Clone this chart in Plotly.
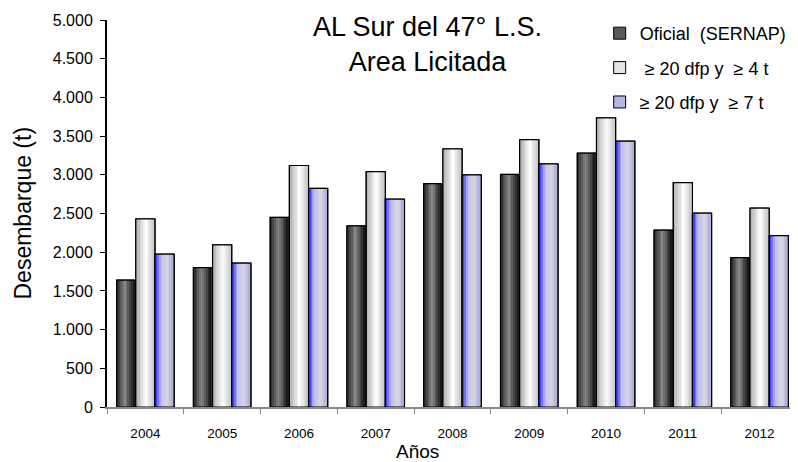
import plotly.graph_objects as go

years = ["2004", "2005", "2006", "2007", "2008", "2009", "2010", "2011", "2012"]
oficial = [1640, 1800, 2450, 2340, 2885, 3005, 3280, 2285, 1930]
dfp4 = [2430, 2095, 3120, 3040, 3335, 3455, 3735, 2900, 2570]
dfp7 = [1975, 1860, 2825, 2685, 3000, 3140, 3435, 2505, 2215]
y_ticks = [0, 500, 1000, 1500, 2000, 2500, 3000, 3500, 4000, 4500, 5000]

series = [
    ("Oficial\u00a0\u00a0(SERNAP)", oficial, "#5a5a5a",
     [(0.0, (40, 40, 40)), (0.45, (135, 135, 135)), (1.0, (15, 15, 15))]),
    ("\u00a0\u2265 20 dfp y\u00a0\u00a0\u2265 4 t", dfp4, "#e4e4e4",
     [(0.0, (175, 175, 175)), (0.55, (255, 255, 255)), (1.0, (200, 200, 200))]),
    ("\u2265 20 dfp y\u00a0\u00a0\u2265 7 t", dfp7, "#b4b4e6",
     [(0.0, (40, 40, 255)), (0.3, (190, 190, 235)), (0.7, (215, 215, 225)), (1.0, (170, 170, 220))]),
]

def interp(stops, t):
    for (t0, c0), (t1, c1) in zip(stops[:-1], stops[1:]):
        if t0 <= t <= t1:
            f = (t - t0) / (t1 - t0) if t1 > t0 else 0
            c = [round(a + (b - a) * f) for a, b in zip(c0, c1)]
            return "rgb(%d,%d,%d)" % tuple(c)
    return "rgb(%d,%d,%d)" % stops[-1][1]

FONT = "Arial, Liberation Sans, sans-serif"

fig = go.Figure()
bw = 0.25
nstrip = 10
inset = 0.012
for i, (name, vals, mid, stops) in enumerate(series):
    off = -0.375 + i * bw
    fig.add_trace(go.Bar(x=years, y=vals, name=name, legendgroup=name,
                         marker=dict(color=mid, line=dict(color="black", width=1)),
                         width=bw, offset=off, showlegend=True))
    sw = (bw - 2 * inset) / nstrip
    for k in range(nstrip):
        t = (k + 0.5) / nstrip
        fig.add_trace(go.Bar(x=years, y=vals, legendgroup=name, showlegend=False,
                             marker=dict(color=interp(stops, t), line=dict(width=0)),
                             width=sw * 1.02, offset=off + inset + k * sw, hoverinfo="skip"))
    fig.add_trace(go.Bar(x=years, y=vals, legendgroup=name, showlegend=False,
                         marker=dict(color="rgba(0,0,0,0)", line=dict(color="black", width=1.2)),
                         width=bw, offset=off, hoverinfo="skip"))

# chart title
fig.add_annotation(text="AL Sur del 47\u00b0 L.S.<br>Area Licitada", xref="paper", yref="paper",
                   x=0.4645, y=0.937, xanchor="center", yanchor="middle", showarrow=False,
                   font=dict(size=27, color="black", family=FONT))
# axis titles
fig.add_annotation(text="Desembarque (t)", xref="paper", yref="paper", textangle=-90,
                   x=-0.123, y=0.5, xanchor="center", yanchor="middle", showarrow=False,
                   font=dict(size=23, color="black", family=FONT))
fig.add_annotation(text="Años", xref="paper", yref="paper",
                   x=0.45, y=-0.115, xanchor="center", yanchor="middle", showarrow=False,
                   font=dict(size=19, color="black", family=FONT))

# page body has an 8px margin: figure is sized/offset so the plot area lands at
# x 107..798, y 20..407 of the window
fig.update_layout(
    width=790, height=454,
    barmode="overlay",
    separators=",.",
    paper_bgcolor="white", plot_bgcolor="white",
    margin=dict(l=99, r=0, t=12, b=55, autoexpand=False),
    font=dict(family=FONT, color="black"),
    legend=dict(x=0.713, y=1.013, xanchor="left", yanchor="top",
                font=dict(size=18, family=FONT), tracegroupgap=8, bgcolor="rgba(0,0,0,0)",
                itemwidth=30),
    showlegend=True,
)
fig.update_xaxes(type="category", tickson="boundaries", ticks="outside", ticklen=5,
                 tickcolor="#888888", showline=True, linecolor="#888888", linewidth=2,
                 tickfont=dict(size=13.5), ticklabelstandoff=13, automargin=False,
                 showgrid=False, range=[-0.5, 8.5])
fig.update_yaxes(range=[0, 5000], tickvals=y_ticks, tickformat=",d", ticks="outside", ticklen=5,
                 tickcolor="black", showline=True, linecolor="black", linewidth=2,
                 tickfont=dict(size=16), ticklabelstandoff=4, automargin=False,
                 showgrid=False, zeroline=False)

fig.write_html("out.html")
